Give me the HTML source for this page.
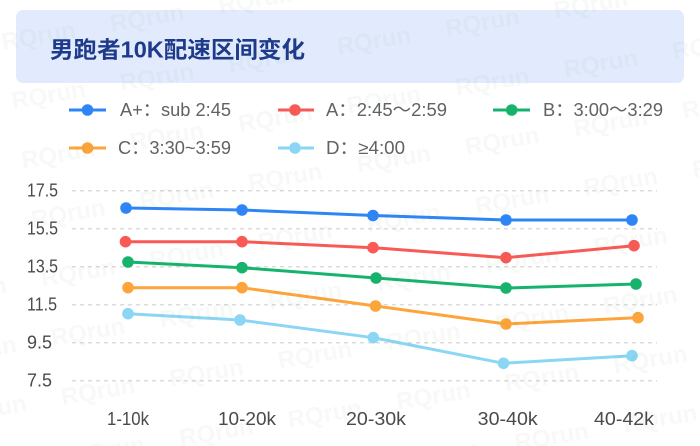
<!DOCTYPE html>
<html>
<head>
<meta charset="utf-8">
<style>
html,body{margin:0;padding:0;background:#fff;}
svg{display:block;}
</style>
</head>
<body>
<svg width="700" height="446" viewBox="0 0 700 446" xmlns="http://www.w3.org/2000/svg">
  <defs>
    <pattern id="wm" patternUnits="userSpaceOnUse" x="-5.3" y="4.8" width="110" height="60" patternTransform="rotate(-9.5)">
      <text x="0" y="45" font-family="'Liberation Sans', sans-serif" font-weight="bold" font-size="24" fill="#2a6b2a" fill-opacity="0.04">RQrun</text>
    </pattern>
  </defs>
  <rect x="0" y="0" width="700" height="446" fill="#ffffff"/>
  <!-- title box -->
  <rect x="16" y="10" width="668" height="73" rx="7" fill="#e2ebfd"/>
  <text x="50" y="57.3" font-family="'Liberation Sans','Noto Sans CJK SC',sans-serif" font-weight="bold" font-size="23" fill="#1e3a8a" textLength="255" lengthAdjust="spacingAndGlyphs">男跑者10K配速区间变化</text>

  <!-- legend -->
  <g font-family="'Liberation Sans','Noto Sans CJK SC',sans-serif" font-size="18" fill="#606266">
    <line x1="69" y1="110" x2="106" y2="110" stroke="#2e86f6" stroke-width="3"/>
    <circle cx="87.5" cy="110" r="5.8" fill="#2e86f6"/>
    <text x="120" y="116" textLength="111" lengthAdjust="spacingAndGlyphs">A+：sub 2:45</text>

    <line x1="278" y1="110" x2="314" y2="110" stroke="#f95a56" stroke-width="3"/>
    <circle cx="295" cy="110" r="5.8" fill="#f95a56"/>
    <text x="326" y="116" textLength="121" lengthAdjust="spacingAndGlyphs">A：2:45～2:59</text>

    <line x1="493" y1="110" x2="530" y2="110" stroke="#17b36d" stroke-width="3"/>
    <circle cx="511.7" cy="110" r="5.8" fill="#17b36d"/>
    <text x="543" y="116" textLength="120" lengthAdjust="spacingAndGlyphs">B：3:00～3:29</text>

    <line x1="69" y1="148" x2="106" y2="148" stroke="#fda43a" stroke-width="3"/>
    <circle cx="87.5" cy="148" r="5.8" fill="#fda43a"/>
    <text x="118" y="154" textLength="113" lengthAdjust="spacingAndGlyphs">C：3:30~3:59</text>

    <line x1="278" y1="148" x2="314" y2="148" stroke="#8bd6f5" stroke-width="3"/>
    <circle cx="295" cy="148" r="5.8" fill="#8bd6f5"/>
    <text x="326" y="154" textLength="79" lengthAdjust="spacingAndGlyphs">D：≥4:00</text>
  </g>

  <!-- grid -->
  <g stroke="#dcdcdc" stroke-width="1.5" stroke-dasharray="4 4">
    <line x1="72" y1="190.7" x2="657" y2="190.7"/>
    <line x1="72" y1="228.7" x2="657" y2="228.7"/>
    <line x1="72" y1="266.7" x2="657" y2="266.7"/>
    <line x1="72" y1="304.7" x2="657" y2="304.7"/>
    <line x1="72" y1="342.7" x2="657" y2="342.7"/>
    <line x1="72" y1="380.7" x2="657" y2="380.7"/>
  </g>

  <!-- y labels -->
  <g font-family="'Liberation Sans',sans-serif" font-size="18" fill="#4a4a4a">
    <text x="27" y="196.7" textLength="31" lengthAdjust="spacingAndGlyphs">17.5</text>
    <text x="27" y="234.7" textLength="31" lengthAdjust="spacingAndGlyphs">15.5</text>
    <text x="27" y="272.7" textLength="31" lengthAdjust="spacingAndGlyphs">13.5</text>
    <text x="27" y="310.7" textLength="30" lengthAdjust="spacingAndGlyphs">11.5</text>
    <text x="27" y="348.7" textLength="25" lengthAdjust="spacingAndGlyphs">9.5</text>
    <text x="27" y="386.7" textLength="25" lengthAdjust="spacingAndGlyphs">7.5</text>
  </g>

  <!-- x labels -->
  <g font-family="'Liberation Sans',sans-serif" font-size="18" fill="#4a4a4a" text-anchor="middle">
    <text x="128" y="425" textLength="42" lengthAdjust="spacingAndGlyphs">1-10k</text>
    <text x="247" y="425" textLength="58" lengthAdjust="spacingAndGlyphs">10-20k</text>
    <text x="376" y="425" textLength="60" lengthAdjust="spacingAndGlyphs">20-30k</text>
    <text x="507.7" y="425" textLength="60" lengthAdjust="spacingAndGlyphs">30-40k</text>
    <text x="624" y="425" textLength="60" lengthAdjust="spacingAndGlyphs">40-42k</text>
  </g>

  <!-- series -->
  <g fill="none" stroke-width="3" stroke-linejoin="round" stroke-linecap="round">
    <polyline stroke="#2e86f6" points="126,208 242,210 373,215.5 506,220 632,220"/>
    <polyline stroke="#f95a56" points="125.5,241.7 242,241.7 373,247.7 506,257.7 634,245.7"/>
    <polyline stroke="#17b36d" points="128,262 242,267.7 376,278 506,288 636,284"/>
    <polyline stroke="#fda43a" points="128,287.7 242,287.7 375.5,306 506,324 638,317.7"/>
    <polyline stroke="#8bd6f5" points="128,313.7 240,320 373.3,337.7 503.5,363.3 632,355.7"/>
  </g>
  <g>
    <g fill="#2e86f6">
      <circle cx="126" cy="208" r="5.8"/><circle cx="242" cy="210" r="5.8"/><circle cx="373" cy="215.5" r="5.8"/><circle cx="506" cy="220" r="5.8"/><circle cx="632" cy="220" r="5.8"/>
    </g>
    <g fill="#f95a56">
      <circle cx="125.5" cy="241.7" r="5.8"/><circle cx="242" cy="241.7" r="5.8"/><circle cx="373" cy="247.7" r="5.8"/><circle cx="506" cy="257.7" r="5.8"/><circle cx="634" cy="245.7" r="5.8"/>
    </g>
    <g fill="#17b36d">
      <circle cx="128" cy="262" r="5.8"/><circle cx="242" cy="267.7" r="5.8"/><circle cx="376" cy="278" r="5.8"/><circle cx="506" cy="288" r="5.8"/><circle cx="636" cy="284" r="5.8"/>
    </g>
    <g fill="#fda43a">
      <circle cx="128" cy="287.7" r="5.8"/><circle cx="242" cy="287.7" r="5.8"/><circle cx="375.5" cy="306" r="5.8"/><circle cx="506" cy="324" r="5.8"/><circle cx="638" cy="317.7" r="5.8"/>
    </g>
    <g fill="#8bd6f5">
      <circle cx="128" cy="313.7" r="5.8"/><circle cx="240" cy="320" r="5.8"/><circle cx="373.3" cy="337.7" r="5.8"/><circle cx="503.5" cy="363.3" r="5.8"/><circle cx="632" cy="355.7" r="5.8"/>
    </g>
  </g>

  <!-- watermark overlay -->
  <rect x="0" y="0" width="700" height="446" fill="url(#wm)"/>
</svg>
</body>
</html>
